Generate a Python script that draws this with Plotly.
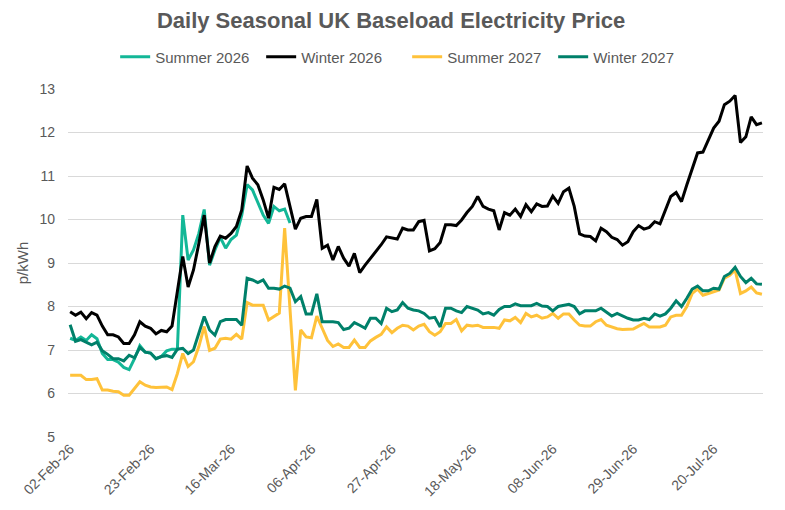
import pandas as pd
import plotly.graph_objects as go

# business days from 02-Feb-26
dates = pd.bdate_range("2026-02-02", periods=130)
date_labels = [d.strftime("%d-%b-%y") for d in dates]
tick_labels = date_labels[::15]

summer_2026 = [
    7.27, 7.22, 7.30, 7.22, 7.35, 7.26, 6.92, 6.78, 6.78, 6.72,
    6.60, 6.55, 6.80, 7.10, 6.95, 6.93, 6.80, 6.85, 6.98, 7.02,
    7.02, 10.10, 9.07, 9.30, 9.68, 10.23, 8.95, 9.30, 9.59, 9.34,
    9.54, 9.64, 10.10, 10.80, 10.68, 10.37, 10.10, 9.91, 10.30, 10.20,
    10.24, 9.92,
]

winter_2026 = [
    7.88, 7.80, 7.87, 7.72, 7.86, 7.80, 7.55, 7.35, 7.35, 7.30,
    7.15, 7.15, 7.35, 7.65, 7.55, 7.50, 7.37, 7.45, 7.42, 7.55,
    8.35, 9.15, 8.45, 8.84, 9.45, 10.10, 9.00, 9.38, 9.62, 9.57,
    9.68, 9.84, 10.22, 11.23, 10.95, 10.80, 10.45, 10.03, 10.74, 10.69,
    10.82, 10.33, 9.78, 10.03, 10.07, 10.07, 10.46, 9.34, 9.41, 9.07,
    9.38, 9.11, 8.93, 9.22, 8.78, 8.95, 9.10, 9.25, 9.42, 9.60,
    9.57, 9.55, 9.80, 9.76, 9.76, 9.95, 9.98, 9.28, 9.33, 9.47,
    9.88, 9.88, 9.86, 9.99, 10.16, 10.30, 10.53, 10.30, 10.24, 10.20,
    9.76, 10.16, 10.10, 10.24, 10.07, 10.34, 10.18, 10.36, 10.30, 10.31,
    10.54, 10.37, 10.64, 10.72, 10.30, 9.67, 9.62, 9.61, 9.51, 9.80,
    9.72, 9.59, 9.54, 9.41, 9.49, 9.72, 9.86, 9.78, 9.82, 9.95,
    9.90, 10.22, 10.53, 10.62, 10.41, 10.80, 11.18, 11.53, 11.55, 11.83,
    12.10, 12.26, 12.64, 12.72, 12.85, 11.77, 11.90, 12.36, 12.18, 12.22,
]

summer_2027 = [
    6.42, 6.42, 6.42, 6.32, 6.32, 6.34, 6.08, 6.08, 6.05, 6.04,
    5.96, 5.96, 6.11, 6.27, 6.19, 6.15, 6.14, 6.14, 6.15, 6.09,
    6.46, 6.92, 6.62, 6.73, 7.08, 7.54, 6.99, 7.04, 7.25, 7.27,
    7.25, 7.36, 7.25, 8.09, 8.03, 8.03, 8.03, 7.69, 7.78, 7.85,
    9.80, 7.93, 6.07, 7.46, 7.30, 7.28, 7.78, 7.50, 7.22, 7.08,
    7.14, 7.06, 7.06, 7.23, 7.06, 7.06, 7.21, 7.29, 7.36, 7.53,
    7.40, 7.50, 7.57, 7.55, 7.46, 7.55, 7.59, 7.42, 7.34, 7.42,
    7.61, 7.61, 7.70, 7.44, 7.57, 7.55, 7.57, 7.52, 7.52, 7.52,
    7.50, 7.69, 7.67, 7.75, 7.63, 7.84, 7.76, 7.80, 7.73, 7.76,
    7.84, 7.73, 7.83, 7.83, 7.69, 7.57, 7.55, 7.55, 7.65, 7.70,
    7.57, 7.53, 7.49, 7.47, 7.47, 7.48, 7.55, 7.61, 7.53, 7.53,
    7.53, 7.57, 7.76, 7.80, 7.80, 8.00, 8.30, 8.40, 8.26, 8.30,
    8.34, 8.38, 8.65, 8.72, 8.84, 8.30, 8.36, 8.45, 8.31, 8.28,
]

winter_2027 = [
    7.58, 7.20, 7.24, 7.18, 7.12, 7.18, 6.98, 6.90, 6.80, 6.80,
    6.75, 6.88, 6.82, 7.06, 6.95, 6.93, 6.80, 6.85, 6.87, 6.83,
    7.02, 7.04, 6.92, 7.00, 7.38, 7.77, 7.46, 7.34, 7.65, 7.70,
    7.70, 7.70, 7.57, 8.65, 8.61, 8.55, 8.61, 8.42, 8.42, 8.40,
    8.47, 8.42, 8.11, 8.23, 7.83, 7.83, 8.29, 7.65, 7.65, 7.65,
    7.63, 7.47, 7.50, 7.63, 7.57, 7.50, 7.73, 7.73, 7.61, 7.96,
    7.88, 7.92, 8.09, 7.96, 7.92, 7.90, 7.84, 7.73, 7.75, 7.53,
    7.96, 7.96, 7.90, 7.86, 8.00, 7.96, 7.92, 7.83, 7.86, 7.80,
    7.93, 8.00, 8.00, 8.06, 8.02, 8.02, 8.02, 8.07, 8.01, 8.00,
    7.90, 8.00, 8.03, 8.05, 8.00, 7.83, 7.90, 7.90, 7.90, 7.96,
    7.88, 7.78, 7.84, 7.78, 7.73, 7.69, 7.69, 7.73, 7.70, 7.83,
    7.78, 7.83, 7.96, 8.13, 8.00, 8.19, 8.40, 8.47, 8.36, 8.36,
    8.42, 8.40, 8.69, 8.76, 8.90, 8.69, 8.55, 8.65, 8.52, 8.51,
]

series = [
    ("Summer 2026", summer_2026, "#13B797"),
    ("Winter 2026", winter_2026, "#000000"),
    ("Summer 2027", summer_2027, "#FFC23A"),
    ("Winter 2027", winter_2027, "#00806A"),
]

grey = "#595959"
fig = go.Figure()
for name, values, colour in series:
    fig.add_trace(go.Scatter(
        x=date_labels[:len(values)],
        y=values,
        name=name,
        mode="lines",
        line=dict(color=colour, width=3),
    ))

# page body adds an 8px offset, so margins are trimmed by that much
fig.update_layout(
    width=785,
    height=510,
    margin=dict(l=60, r=30, t=81, b=81, autoexpand=False),
    paper_bgcolor="white",
    plot_bgcolor="white",
    font=dict(family="Liberation Sans, Arial, sans-serif", color=grey, size=13),
    title=dict(
        text="<b>Daily Seasonal UK Baseload Electricity Price</b>",
        x=0.488, xanchor="center", y=0.976, yanchor="middle",
        font=dict(size=22, color=grey),
    ),
    legend=dict(
        orientation="h",
        x=0.488, xanchor="center",
        y=1.092, yanchor="middle",
        font=dict(size=15, color=grey),
        itemwidth=30,
        entrywidth=101,
    ),
    showlegend=True,
)

fig.update_xaxes(
    type="category",
    categoryorder="array",
    categoryarray=date_labels,
    range=[-0.4, 129.2],
    tickmode="array",
    tickvals=tick_labels,
    ticktext=tick_labels,
    tickangle=-45,
    automargin=False,
    showgrid=False,
    showline=False,
    zeroline=False,
    tickfont=dict(size=14, color=grey),
)

fig.update_yaxes(
    range=[5, 13],
    dtick=1,
    automargin=False,
    showgrid=True,
    gridcolor="#D9D9D9",
    gridwidth=1,
    zeroline=False,
    showline=False,
    ticks="",
    ticklabelstandoff=12,
    title=dict(text="p/kWh", font=dict(size=15, color=grey), standoff=7),
    tickfont=dict(size=14, color=grey),
)

fig.write_html("out.html")
